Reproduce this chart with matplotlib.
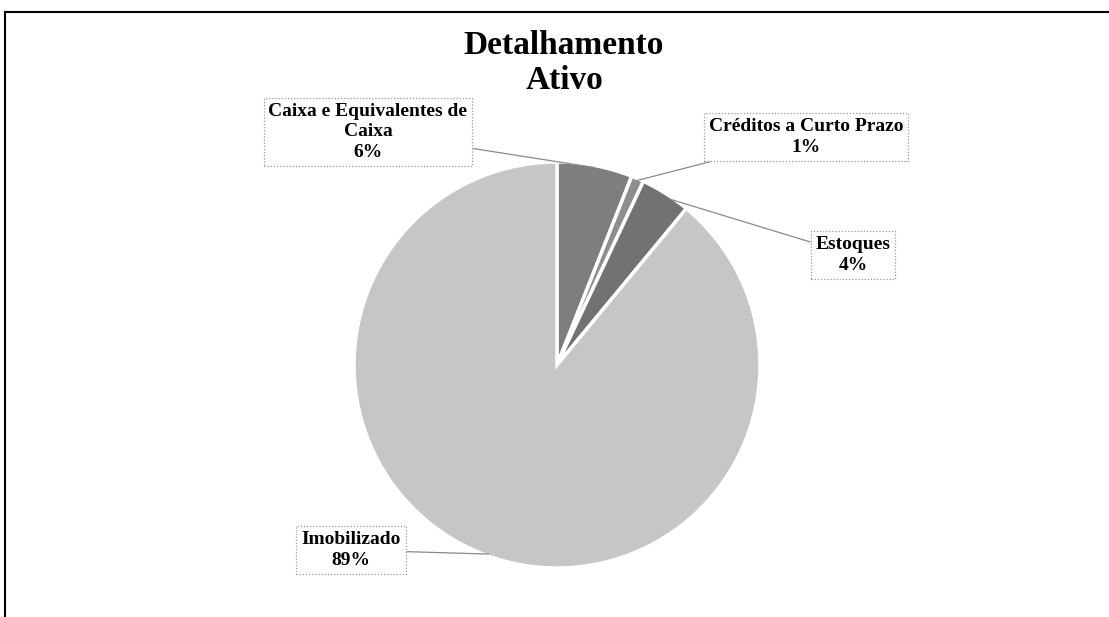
import matplotlib
matplotlib.use("Agg")
import matplotlib.pyplot as plt
from matplotlib.lines import Line2D
import numpy as np

categories = ["Caixa e Equivalentes de\nCaixa", "Créditos a Curto Prazo", "Estoques", "Imobilizado"]
values = [6, 1, 4, 89]
colors = ["#7e7e7e", "#8e8e8e", "#727272", "#c6c6c6"]
title = "Detalhamento\nAtivo"

W, H = 1109, 617
fig = plt.figure(figsize=(W / 100, H / 100), dpi=100)
serif = ["Liberation Serif", "DejaVu Serif"]

# pie axes: centre (557,365) px, radius 203 px
cx, cy, r = 557, 365, 203
ax = fig.add_axes([(cx - r) / W, (H - cy - r) / H, 2 * r / W, 2 * r / H])
wedges, _ = ax.pie(values, colors=colors, startangle=90, counterclock=False,
                   radius=1.0, wedgeprops=dict(edgecolor="white", linewidth=2.5))
ax.set_xlim(-1, 1)
ax.set_ylim(-1, 1)
ax.axis("off")

# label positions (figure pixels, image coords y-down) and leader anchor fraction
label_pos = [(368, 132), (806, 137), (853, 255), (351, 550)]
anchor_frac = [0.5, 0.5, 0.35, 0.5]
for w, cat, v, (lx, ly), f in zip(wedges, categories, values, label_pos, anchor_frac):
    ang = np.deg2rad(w.theta1 + (w.theta2 - w.theta1) * f)
    xy = (np.cos(ang) * 0.99, np.sin(ang) * 0.99)
    ax.annotate(f"{cat}\n{v}%", xy=xy, xycoords="data",
                xytext=(lx, H - ly), textcoords="figure pixels",
                ha="center", va="center", multialignment="center",
                fontsize=14, fontweight="bold", family=serif, linespacing=1.3,
                bbox=dict(boxstyle="square,pad=0.25", fc="white", ec="#999999",
                          lw=0.9, ls=(0, (1, 1.5))),
                arrowprops=dict(arrowstyle="-", color="#8a8a8a", lw=0.9,
                                shrinkA=0, shrinkB=0),
                annotation_clip=False, zorder=5)

fig.text(564 / W, 1 - 63 / H, title, ha="center", va="center",
         fontsize=24, fontweight="bold", family=serif, linespacing=1.18)

# outer frame (top and left edges visible)
fig.add_artist(Line2D([5 / W, 1.0], [1 - 12 / H, 1 - 12 / H], color="black", lw=1.5,
                      transform=fig.transFigure))
fig.add_artist(Line2D([5 / W, 5 / W], [1 - 12 / H, 0.0], color="black", lw=1.5,
                      transform=fig.transFigure))

fig.savefig("out.png", dpi=100, facecolor="white")
